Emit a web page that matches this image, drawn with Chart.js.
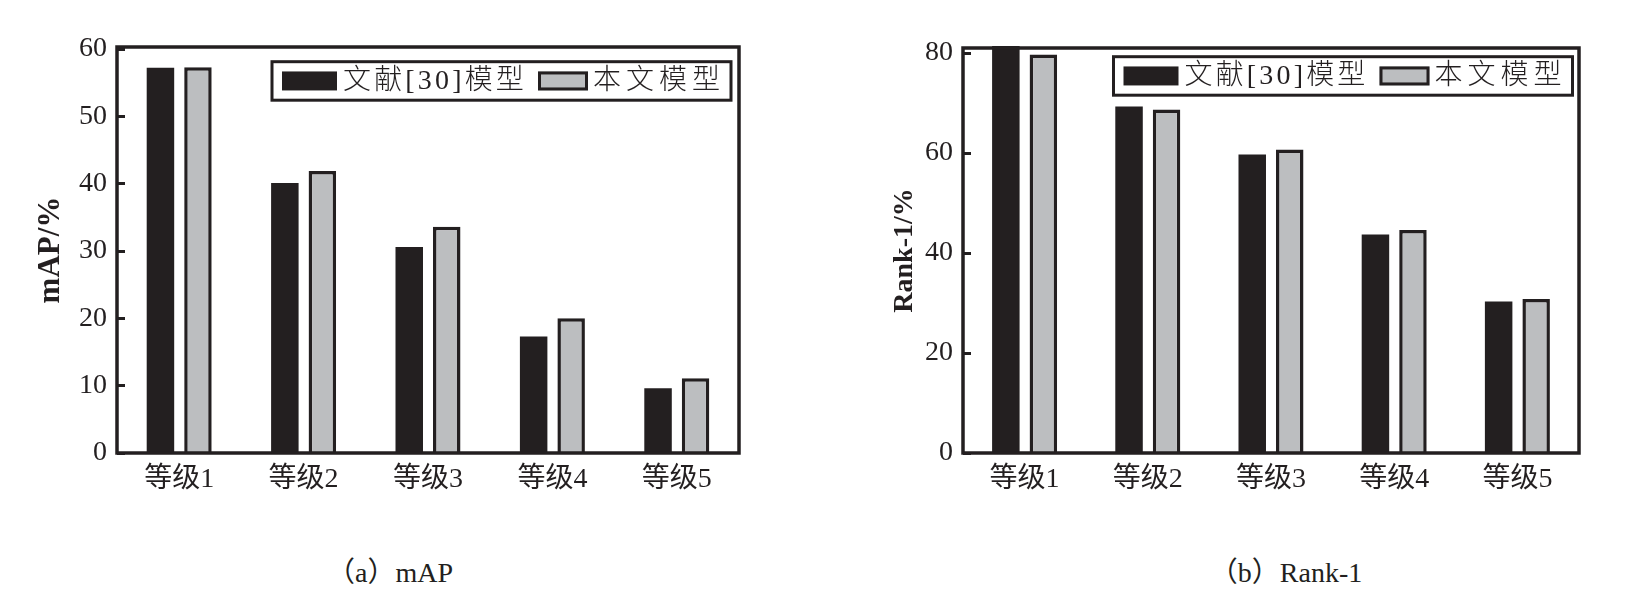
<!DOCTYPE html>
<html>
<head>
<meta charset="utf-8">
<script src="https://cdn.jsdelivr.net/npm/chart.js@4.4.1/dist/chart.umd.min.js"></script>
<style>
html,body{margin:0;padding:0;background:#fff;width:1629px;height:602px;overflow:hidden;}
canvas{position:absolute;top:0;}
#c1{left:0;}
#c2{left:820px;}
.cap{position:absolute;top:550px;font:28px 'Liberation Serif','Noto Sans CJK SC',serif;color:#231f20;transform:translateX(-50%);white-space:nowrap;}
</style>
</head>
<body>
<canvas id="c1" width="800" height="513"></canvas>
<canvas id="c2" width="809" height="513"></canvas>
<div class="cap" style="left:390px">（a）mAP</div>
<div class="cap" style="left:1286px">（b）Rank-1</div>
<script>
// ---- data ----
const categories = ['等级1', '等级2', '等级3', '等级4', '等级5'];
const seriesNames = ['文献[30]模型', '本文模型'];
const mapRef30 = [57.2, 40.1, 30.6, 17.3, 9.6];
const mapOurs = [57.3, 41.9, 33.6, 20.0, 11.1];
const rankRef30 = [81.4, 69.3, 59.7, 43.7, 30.3];
const rankOurs = [79.7, 68.7, 60.7, 44.6, 30.8];
const mapTicks = [0, 10, 20, 30, 40, 50, 60];
const rankTicks = [0, 20, 40, 60, 80];

// ---- styles ----
const INK = '#231f20';
const GRAY = '#bcbec0';
const FAMILY = "'Liberation Serif','Noto Sans CJK SC',serif";

const frameLegend = {
  id: 'frameLegend',
  afterDatasetsDraw(chart, args, o) {
    const {ctx, chartArea: a} = chart;
    ctx.save();
    ctx.strokeStyle = INK;
    ctx.lineWidth = 3.5;
    ctx.strokeRect(a.left, a.top, a.right - a.left, a.bottom - a.top);
    // legend box
    const bx = a.right - o.right - o.w, by = a.top + o.top;
    ctx.lineWidth = 3;
    ctx.strokeRect(bx, by, o.w, o.h);
    const cy = by + o.h / 2;
    chart.data.datasets.forEach((ds, i) => {
      const it = o.items[i];
      ctx.fillStyle = ds.backgroundColor;
      ctx.fillRect(bx + it.swX, cy - 9.5, it.swW, 19);
      if (ds.borderWidth) {
        ctx.lineWidth = 3;
        ctx.strokeStyle = ds.borderColor;
        ctx.strokeRect(bx + it.swX + 1.5, cy - 8, it.swW - 3, 16);
      }
      ctx.font = '300 28px ' + FAMILY;
      ctx.letterSpacing = '0px';
      const n = [...ds.label].length;
      const w0 = ctx.measureText(ds.label).width;
      const ls = Math.max(0, (it.textW - w0) / n);
      ctx.letterSpacing = ls.toFixed(2) + 'px';
      ctx.fillStyle = INK;
      ctx.textBaseline = 'middle';
      ctx.textAlign = 'left';
      ctx.fillText(ds.label, bx + it.textX, cy + 1);
    });
    ctx.restore();
  }
};

function makeChart(id, yTitle, ref, ours, ticksArr, yMax, g) {
  return new Chart(document.getElementById(id), {
    type: 'bar',
    data: {
      labels: categories,
      datasets: [
        {label: seriesNames[0], data: ref, backgroundColor: INK, borderColor: INK, borderWidth: 0},
        {label: seriesNames[1], data: ours, backgroundColor: GRAY, borderColor: INK, borderWidth: 3.5}
      ]
    },
    options: {
      responsive: false,
      animation: false,
      events: [],
      layout: {padding: {left: 0, right: g.padRight, top: g.padTop, bottom: 0}},
      datasets: {bar: {categoryPercentage: g.cp, barPercentage: 0.733, clip: false}},
      plugins: {legend: {display: false}, tooltip: {enabled: false}, frameLegend: g.legend},
      scales: {
        x: {
          grid: {display: false, drawTicks: false},
          border: {display: false},
          ticks: {color: INK, font: {family: FAMILY, size: 28}, padding: 10, maxRotation: 0, autoSkip: false},
          afterFit(s) { s.height = 60; }
        },
        y: {
          min: 0, max: yMax,
          afterBuildTicks(s) { s.ticks = ticksArr.map(v => ({value: v})); },
          grid: {display: true, drawOnChartArea: false, drawTicks: true, tickLength: -8, tickWidth: 3, tickColor: INK, color: INK},
          border: {display: false},
          ticks: {color: INK, font: {family: FAMILY, size: 28}, padding: 18},
          title: {display: true, text: yTitle, color: INK, font: {family: FAMILY, size: g.titleSize, weight: 'bold'}, padding: {top: g.titlePad, bottom: 0}},
          afterFit(s) { s.width = g.axisW; }
        }
      }
    },
    plugins: [frameLegend]
  });
}

makeChart('c1', 'mAP/%', mapRef30, mapOurs, mapTicks, 60.3, {
  padRight: 61, padTop: 47, axisW: 117, titlePad: 32, titleSize: 31, cp: 0.603,
  legend: {right: 8, top: 14.7, w: 459, h: 38.5,
    items: [{swX: 10, swW: 55, textX: 71, textW: 184}, {swX: 266, swW: 50, textX: 321, textW: 132}]}
});
makeChart('c2', 'Rank-1/%', rankRef30, rankOurs, rankTicks, 81.0, {
  padRight: 50, padTop: 48, axisW: 143, titlePad: 68, titleSize: 28, cp: 0.609,
  legend: {right: 6.5, top: 8.7, w: 459, h: 38.5,
    items: [{swX: 10, swW: 55, textX: 71, textW: 184}, {swX: 266, swW: 50, textX: 321, textW: 132}]}
});
</script>
</body>
</html>
